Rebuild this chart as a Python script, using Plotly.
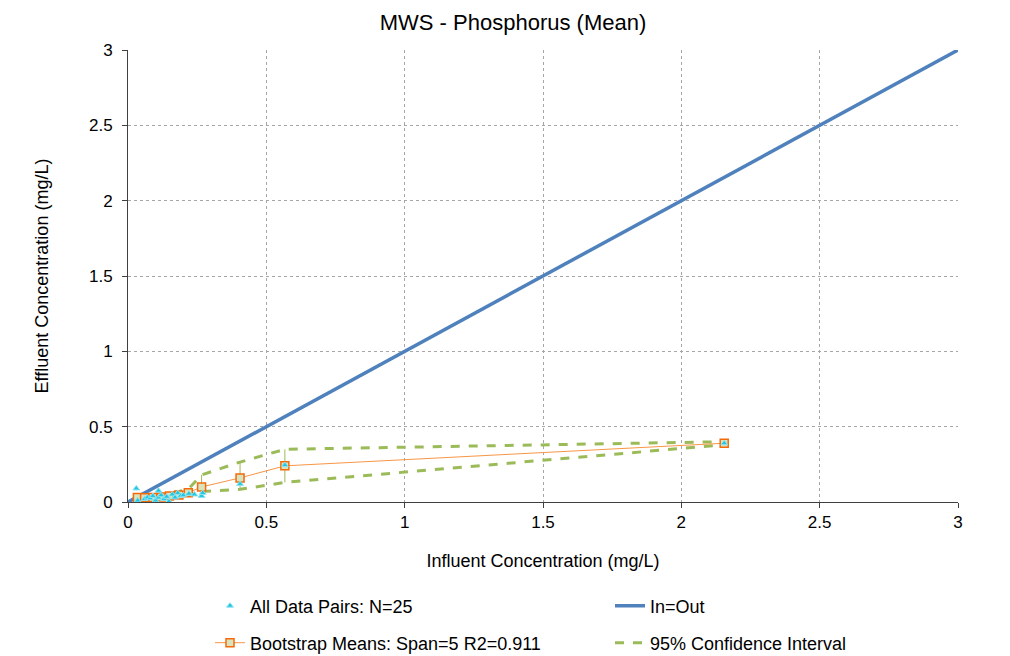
import plotly.graph_objects as go

# ---- data ----
pairs_x = [0.03, 0.035, 0.06, 0.07, 0.08, 0.09, 0.11, 0.10, 0.11, 0.12, 0.13, 0.14, 0.148,
           0.16, 0.17, 0.18, 0.19, 0.20, 0.22, 0.24, 0.266, 0.27, 0.405, 0.567, 2.155]
pairs_y = [0.09, 0.01, 0.02, 0.03, 0.025, 0.04, 0.075, 0.01, 0.03, 0.045, 0.02, 0.035, 0.003,
           0.05, 0.03, 0.06, 0.04, 0.045, 0.055, 0.05, 0.04, 0.06, 0.12, 0.245, 0.39]

boot_x = [0.034, 0.06, 0.09, 0.12, 0.15, 0.184, 0.218, 0.266, 0.405, 0.567, 2.155]
boot_y = [0.030, 0.028, 0.030, 0.033, 0.040, 0.046, 0.062, 0.100, 0.160, 0.240, 0.390]
ci_upper = [0.040, 0.040, 0.045, 0.050, 0.058, 0.070, 0.085, 0.180, 0.265, 0.350, 0.400]
ci_lower = [0.022, 0.020, 0.022, 0.025, 0.030, 0.036, 0.050, 0.070, 0.084, 0.130, 0.380]

line_x = [0, 3]
line_y = [0, 3]

title = "MWS - Phosphorus (Mean)"
x_title = "Influent Concentration (mg/L)"
y_title = "Effluent Concentration (mg/L)"

err_plus = [u - b for u, b in zip(ci_upper, boot_y)]
err_minus = [b - l for b, l in zip(boot_y, ci_lower)]

FONT = "Liberation Sans, Arial"

fig = go.Figure()

fig.add_trace(go.Scatter(
    x=line_x, y=line_y, mode="lines", name="In=Out",
    line=dict(color="#4F81BD", width=3.5), legend="legend2"))

fig.add_trace(go.Scatter(
    x=boot_x + boot_x[::-1], y=ci_upper + ci_lower[::-1],
    mode="lines", name="95% Confidence Interval",
    line=dict(color="#9BBB59", width=3, dash="dash"), legend="legend4"))

fig.add_trace(go.Scatter(
    x=boot_x, y=boot_y, mode="lines+markers", name="Bootstrap Means: Span=5 R2=0.911",
    line=dict(color="#F79646", width=1),
    marker=dict(symbol="square", size=8, color="#D7E4BD",
                line=dict(color="#F46A0A", width=1.5)),
    error_y=dict(type="data", array=err_plus, arrayminus=err_minus,
                 color="#9BBB59", thickness=1, width=0),
    legend="legend3"))

fig.add_trace(go.Scatter(
    x=pairs_x, y=pairs_y, mode="markers", name="All Data Pairs: N=25",
    marker=dict(symbol="triangle-up", size=6, color="#1FC8E0",
                line=dict(color="#8FE2F0", width=1)),
    legend="legend"))

leg_common = dict(font=dict(family=FONT, size=18, color="#000000"),
                  bgcolor="rgba(0,0,0,0)", xanchor="left", yanchor="middle")

axis_common = dict(range=[0, 3], dtick=0.5, showgrid=True, gridcolor="#A6A6A6",
                   griddash="dot", gridwidth=1, showline=True, linecolor="#404040",
                   linewidth=1, ticks="outside", ticklen=5, tickcolor="#404040",
                   zeroline=False, tickfont=dict(size=17))

fig.update_layout(
    width=1010, height=656,
    margin=dict(l=120, r=60, t=42, b=162, autoexpand=False),
    paper_bgcolor="white", plot_bgcolor="white",
    showlegend=True,
    font=dict(family=FONT, size=17, color="#000000"),
    title=dict(text=title, x=0.5, xanchor="center", y=1 - 14 / 656, yanchor="middle",
               font=dict(size=22)),
    xaxis=dict(**axis_common, title=dict(text=x_title, font=dict(size=18), standoff=22)),
    yaxis=dict(**axis_common, ticklabelstandoff=6,
               title=dict(text=y_title, font=dict(size=18), standoff=35)),
    legend=dict(x=(210 - 128) / 830, y=(502 - 606) / 452, **leg_common),
    legend2=dict(x=(610 - 128) / 830, y=(502 - 606) / 452, **leg_common),
    legend3=dict(x=(210 - 128) / 830, y=(502 - 643) / 452, **leg_common),
    legend4=dict(x=(610 - 128) / 830, y=(502 - 643) / 452, **leg_common),
)

fig.write_html("out.html")
